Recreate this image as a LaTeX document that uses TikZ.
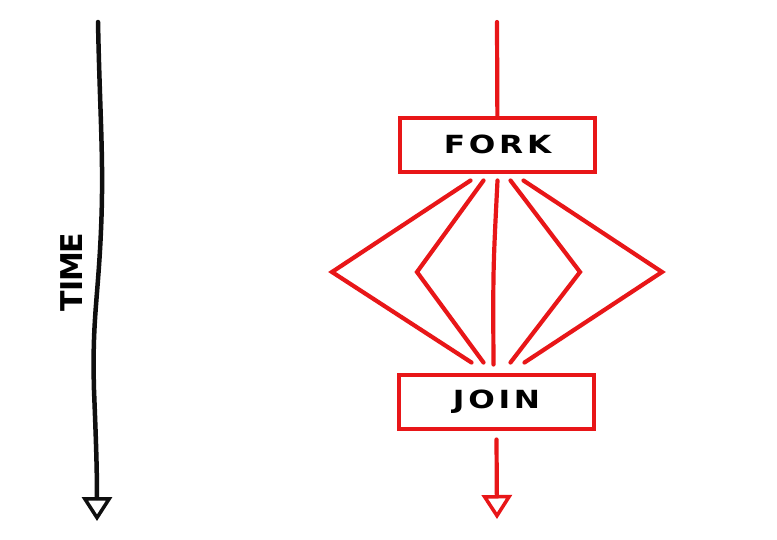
\documentclass[tikz,border=0pt]{standalone}
\usepackage{fontspec}
\setmainfont{DejaVu Sans}
\usetikzlibrary{arrows.meta, positioning}
\definecolor{threadred}{RGB}{232, 22, 24}
\definecolor{timeblack}{RGB}{15, 15, 15}
\newcommand{\widecaps}[1]{\scalebox{1.25}[1]{\addfontfeature{LetterSpace=12}#1}}

\begin{document}
\begin{tikzpicture}[x=1pt, y=-1pt,
    stagebox/.style={draw=threadred, line width=4pt, fill=white, rectangle,
        minimum width=195pt, minimum height=54pt, inner sep=0pt,
        font=\fontsize{25}{25}\selectfont\bfseries},
    thread/.style={draw=threadred, line width=4.2pt, line join=miter, line cap=round},
    openhead/.style={-{Triangle[open, length=24pt, width=30pt, line width=3.5pt]}}]
    \useasboundingbox[fill=white] (0,0) rectangle (777,539);
    % time axis
    \coordinate (timetop) at (98,22);
    \coordinate (timeend) at (97,521);
    \draw[timeblack, line width=4.5pt, line cap=round, openhead] (timetop)
        .. controls (100,120) and (104,160) .. (101,230)
        .. controls (98,300) and (92,320) .. (94,390)
        .. controls (96,440) and (97,470) .. (timeend);
    \node[rotate=90, font=\fontsize{30}{30}\selectfont\bfseries\addfontfeature{LetterSpace=-4}] (time) at (72,272) {TIME};
    % fork and join
    \node[stagebox] (fork) at (497.5,144.5) {\widecaps{FORK}};
    \node[stagebox] (join) at (496.5,401.5) {\widecaps{JOIN}};
    \coordinate (start) at (497,22);
    \coordinate (finish) at (497,519);
    \coordinate (outerleft) at (332,272);
    \coordinate (innerleft) at (417,272);
    \coordinate (innerright) at (580,272);
    \coordinate (outerright) at (662,272);
    \draw[thread] (start) -- (fork);
    \draw[thread] ([xshift=-27pt, yshift=-7pt]fork.south) -- (outerleft) -- ([xshift=-25pt, yshift=10pt]join.north);
    \draw[thread] ([xshift=-14pt, yshift=-7pt]fork.south) -- (innerleft) -- ([xshift=-13pt, yshift=10pt]join.north);
    \draw[thread] ([yshift=-7pt]fork.south) .. controls (493,270) .. ([xshift=-3pt, yshift=8pt]join.north);
    \draw[thread] ([xshift=13pt, yshift=-7pt]fork.south) -- (innerright) -- ([xshift=14pt, yshift=10pt]join.north);
    \draw[thread] ([xshift=26pt, yshift=-7pt]fork.south) -- (outerright) -- ([xshift=28pt, yshift=10pt]join.north);
    \draw[thread, openhead] ([yshift=-9pt]join.south) -- (finish);
\end{tikzpicture}
\end{document}
